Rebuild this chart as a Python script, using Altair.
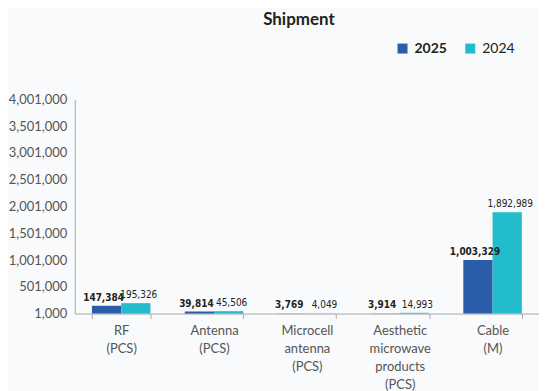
import altair as alt
import pandas as pd

categories = ["RF|(PCS)", "Antenna|(PCS)", "Microcell|antenna|(PCS)",
              "Aesthetic|microwave|products|(PCS)", "Cable|(M)"]
years = ["2025", "2024"]
values_2025 = [147384, 39814, 3769, 3914, 1003329]
values_2024 = [195326, 45506, 4049, 14993, 1892989]
y_ticks = [1000, 501000, 1001000, 1501000, 2001000, 2501000, 3001000, 3501000, 4001000]
colors = ["#2A5CAA", "#22BCCC"]

rows = []
for c, a, b in zip(categories, values_2025, values_2024):
    rows.append({"cat": c, "year": "2025", "value": a})
    rows.append({"cat": c, "year": "2024", "value": b})
df = pd.DataFrame(rows)

x = alt.X("cat:N", sort=categories, title=None,
          scale=alt.Scale(paddingInner=0.37, paddingOuter=0.185),
          axis=alt.Axis(labelExpr="split(datum.label, '|')", labelAngle=0,
                        labelColor="#555555", labelFontSize=13, labelFont="Lato",
                        labelLineHeight=18, labelPadding=6,
                        domainColor="#AAAAAA", tickColor="#AAAAAA",
                        tickBand="extent", tickSize=5, labelBaseline="top"))
y = alt.Y("value:Q", title=None,
          scale=alt.Scale(domain=[1000, 4001000], nice=False, zero=False),
          axis=alt.Axis(values=y_ticks, format=",d", grid=False, ticks=False,
                        labelColor="#555555", labelFontSize=13, labelFont="Lato",
                        labelPadding=8, domainColor="#AAAAAA"))
xo = alt.XOffset("year:N", sort=years)

base = alt.Chart(df)
bars = base.mark_bar().encode(
    x=x, y=y, xOffset=xo, y2=alt.datum(1000),
    color=alt.Color("year:N", sort=years,
                    scale=alt.Scale(domain=years, range=colors),
                    legend=alt.Legend(title=None, orient="none", direction="horizontal",
                                      legendX=322, legendY=-58, symbolType="square",
                                      symbolSize=100, symbolStrokeWidth=0,
                                      labelFontSize=14, labelFont="Lato", labelOffset=5,
                                      labelColor="#222222", columnPadding=16,
                                      labelFontWeight={"expr": "datum.label == '2025' ? 'bold' : 'normal'"}))
)
lab_font = "DejaVu Sans Condensed"
t25 = base.transform_filter("datum.year == '2025'").mark_text(
    dy=-3, dx=-3, baseline="bottom", fontSize=10, fontWeight="bold", font=lab_font, color="#222222"
).encode(x=x, y=y, xOffset=xo, text=alt.Text("value:Q", format=","))
t24 = base.transform_filter("datum.year == '2024'").mark_text(
    dy=-3, dx=3, baseline="bottom", fontSize=10, font=lab_font, color="#222222"
).encode(x=x, y=y, xOffset=xo, text=alt.Text("value:Q", format=","))

chart = alt.layer(bars, t25, t24).properties(
    width=466, height=215, padding={"top": 2, "left": 0, "right": 0, "bottom": 0},
    background="#F8FAFC",
    title=alt.Title("Shipment", fontSize=17, fontWeight="bold", font="Lato",
                    color="#222222", offset=13, anchor="middle", dx=-8),
).configure_view(stroke=None)

chart.save("out.html", embed_options={"renderer": "svg", "actions": False})
